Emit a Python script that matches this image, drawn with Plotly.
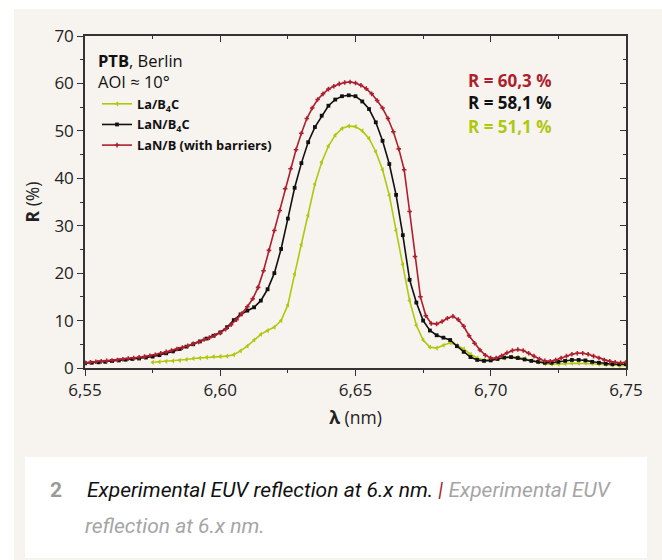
import numpy as np
import plotly.graph_objects as go

# ---- measured reflectance curves, R (%) vs wavelength (nm) ----
lan_b_wl = np.round(np.arange(6.550, 6.7501, 0.002), 4)
lan_b_R = [
    1.1, 1.2, 1.3, 1.4, 1.5, 1.6, 1.7, 1.85, 2.0, 2.1,
    2.25, 2.4, 2.6, 2.8, 3.1, 3.4, 3.7, 4.0, 4.3, 4.7,
    5.1, 5.5, 6.0, 6.4, 6.9, 7.4, 8.2, 9.1, 10.2, 11.5,
    12.9, 14.6, 17.0, 20.5, 24.8, 29.0, 33.2, 37.8, 42.0, 46.0,
    49.5, 52.6, 54.8, 56.6, 57.8, 58.8, 59.4, 59.9, 60.2, 60.3,
    60.1, 59.6, 58.9, 57.8, 56.4, 54.8, 52.6, 49.8, 46.2, 41.8,
    33.0, 23.5, 15.0, 11.0, 9.4, 9.3, 9.8, 10.5, 10.9, 10.2,
    8.8, 6.8, 5.2, 3.8, 2.7, 2.1, 2.1, 2.6, 3.2, 3.7,
    3.9, 3.7, 3.1, 2.5, 1.9, 1.5, 1.4, 1.7, 2.1, 2.5,
    2.9, 3.1, 3.1, 2.9, 2.5, 2.1, 1.7, 1.4, 1.2, 1.1,
    1.2,
]

lan_b4c_wl = np.round(np.arange(6.550, 6.7501, 0.0025), 4)
lan_b4c_R = [
    1.0, 1.1, 1.2, 1.3, 1.45, 1.6, 1.75, 1.9, 2.0, 2.2,
    2.4, 2.7, 3.1, 3.5, 4.0, 4.5, 5.0, 5.6, 6.2, 6.8,
    7.5, 8.6, 10.1, 11.3, 12.1, 12.8, 14.2, 16.6, 20.0, 25.1,
    31.5, 38.0, 43.2, 47.6, 50.8, 53.2, 55.3, 56.6, 57.3, 57.5,
    57.3, 56.2, 54.6, 51.8, 47.9, 43.0, 36.5, 28.0, 18.6, 13.8,
    10.0, 7.9, 6.9, 6.4, 5.9, 4.6, 3.4, 2.3, 1.7, 1.5,
    1.6, 1.9, 2.2, 2.3, 2.1, 1.8, 1.5, 1.3, 1.1, 1.1,
    1.3, 1.5, 1.7, 1.7, 1.6, 1.3, 1.1, 0.9, 0.8, 0.8,
    0.8,
]

la_b4c_wl = np.round(np.arange(6.575, 6.7501, 0.0025), 4)
la_b4c_R = [
    1.2, 1.3, 1.4, 1.5, 1.6, 1.8, 2.0, 2.1, 2.25, 2.4,
    2.45, 2.5, 2.8, 3.6, 4.6, 5.9, 7.1, 7.9, 8.6, 10.0,
    13.3, 19.8, 26.0, 32.2, 38.8, 43.4, 46.8, 49.1, 50.5, 51.0,
    50.9, 50.0, 48.4, 45.6, 41.8, 36.4, 29.0, 21.8, 14.2, 9.0,
    5.9, 4.4, 4.2, 4.8, 5.3, 4.8, 4.0, 2.9, 2.1, 1.7,
    1.7, 1.9, 2.1, 2.3, 2.3, 2.0, 1.6, 1.2, 0.9, 0.8,
    0.8, 0.9, 1.0, 1.0, 1.0, 0.9, 0.8, 0.7, 0.6, 0.5,
    0.5,
]

series_names = ["<b>La/B<sub>4</sub>C</b>", "<b>LaN/B<sub>4</sub>C</b>", "<b>LaN/B (with barriers)</b>"]
peak_labels = ["R = 60,3 %", "R = 58,1 %", "R = 51,1 %"]
x_ticks = [6.55, 6.60, 6.65, 6.70, 6.75]
y_ticks = [0, 10, 20, 30, 40, 50, 60, 70]

RED = "#ad1f2d"
GREEN = "#afc80e"
BLACK = "#111111"
BEIGE = "#f7f3ef"
AXIS = "#333333"
FONT = "Open Sans, Noto Sans, sans-serif"

fig = go.Figure()

fig.add_trace(go.Scatter(
    x=la_b4c_wl, y=la_b4c_R, name=series_names[0], legendgroup="a",
    mode="lines+markers", line=dict(color=GREEN, width=1.6),
    marker=dict(symbol="triangle-left", size=4.5, color=GREEN),
))
fig.add_trace(go.Scatter(
    x=lan_b4c_wl, y=lan_b4c_R, name=series_names[1], legendgroup="b",
    mode="lines+markers", line=dict(color=BLACK, width=1.6),
    marker=dict(symbol="square", size=3.8, color=BLACK),
))
fig.add_trace(go.Scatter(
    x=lan_b_wl, y=lan_b_R, name=series_names[2], legendgroup="c",
    mode="lines+markers", line=dict(color=RED, width=1.6),
    marker=dict(symbol="cross", size=3.8, color=RED),
))
# carrier trace for the mirrored top/right frame axes
fig.add_trace(go.Scatter(
    x=lan_b_wl, y=lan_b_R, xaxis="x2", yaxis="y2", mode="lines",
    line=dict(width=0), opacity=0, showlegend=False, hoverinfo="skip",
))

W, H = 662, 560
L, R, T, B = 85, 36, 36, 192
pw, ph = W - L - R, H - T - B


def px(x):
    return (x - L) / pw


def py(y):
    return (H - B - y) / ph


# page background panels
fig.add_shape(type="rect", xref="paper", yref="paper", layer="below",
              x0=px(14), x1=px(W + 5), y0=py(9), y1=py(H + 5),
              fillcolor=BEIGE, line=dict(width=0))
fig.add_shape(type="rect", xref="paper", yref="paper", layer="below",
              x0=px(25), x1=px(647), y0=py(457), y1=py(558),
              fillcolor="white", line=dict(width=0))

axis_common = dict(showgrid=False, zeroline=False, showline=True,
                   linecolor=AXIS, linewidth=1.5, tickcolor=AXIS, tickwidth=1.2)

fig.update_layout(
    width=W, height=H,
    margin=dict(l=L, r=R, t=T, b=B),
    paper_bgcolor="white",
    plot_bgcolor="rgba(0,0,0,0)",
    separators=", ",
    font=dict(family=FONT, color="#222222"),
    xaxis=dict(
        range=[6.55, 6.75], tickvals=x_ticks, tickformat=".2f",
        ticks="outside", ticklen=6,
        minor=dict(dtick=0.025, ticks="outside", ticklen=3.5, tickcolor=AXIS),
        tickfont=dict(size=17, color="#222222"),
        title=dict(text="<b>λ</b> (nm)", font=dict(size=17.5, color="#222222"), standoff=12),
        **axis_common,
    ),
    yaxis=dict(
        range=[0, 70], tickvals=y_ticks,
        ticks="outside", ticklen=6,
        minor=dict(dtick=5, ticks="outside", ticklen=3.5, tickcolor=AXIS),
        tickfont=dict(size=17, color="#222222"),
        title=dict(text="<b>R</b> (%)", font=dict(size=17.5, color="#222222"), standoff=10),
        **axis_common,
    ),
    xaxis2=dict(
        range=[6.55, 6.75], overlaying="x", side="top", anchor="y2",
        tickvals=x_ticks, showticklabels=False, ticks="inside", ticklen=6,
        minor=dict(dtick=0.025, ticks="inside", ticklen=3.5, tickcolor=AXIS),
        **axis_common,
    ),
    yaxis2=dict(
        range=[0, 70], overlaying="y", side="right", anchor="x2",
        tickvals=y_ticks, showticklabels=False, ticks="inside", ticklen=6,
        minor=dict(dtick=5, ticks="inside", ticklen=3.5, tickcolor=AXIS),
        **axis_common,
    ),
    legend=dict(
        x=px(97), y=py(89), xanchor="left", yanchor="top",
        bgcolor="rgba(0,0,0,0)", borderwidth=0,
        font=dict(size=12.8, color="#111111", family=FONT),
        traceorder="grouped", tracegroupgap=1, itemwidth=30,
    ),
    showlegend=True,
)

# header text in the upper-left corner
fig.add_annotation(xref="paper", yref="paper", x=px(96), y=py(60),
                   xanchor="left", yanchor="middle", showarrow=False,
                   text="<b>PTB</b>, Berlin", font=dict(size=16.5, color="#111111"))
fig.add_annotation(xref="paper", yref="paper", x=px(96), y=py(81),
                   xanchor="left", yanchor="middle", showarrow=False,
                   text="AOI ≈ 10°", font=dict(size=16.5, color="#111111"))

# peak reflectance labels
for lbl, col, yy in zip(peak_labels, [RED, BLACK, GREEN], [80, 103, 126]):
    fig.add_annotation(xref="paper", yref="paper", x=px(466), y=py(yy),
                       xanchor="left", yanchor="middle", showarrow=False,
                       text=f"<b>{lbl}</b>", font=dict(size=17, color=col))

# figure caption
CAP = "Roboto, Noto Sans, sans-serif"
fig.add_annotation(xref="paper", yref="paper", x=px(48), y=py(490),
                   xanchor="left", yanchor="middle", showarrow=False,
                   text="<b>2</b>", font=dict(size=21, color="#9a9a9a", family=CAP))
fig.add_annotation(xref="paper", yref="paper", x=px(85), y=py(490),
                   xanchor="left", yanchor="middle", showarrow=False,
                   text=("<i><span style='color:#111111'>Experimental EUV reflection at 6.x nm.</span> "
                         f"<span style='color:{RED}'>|</span> "
                         "<span style='color:#a5a5a5'>Experimental EUV</span></i>"),
                   font=dict(size=21, family=CAP))
fig.add_annotation(xref="paper", yref="paper", x=px(83), y=py(526),
                   xanchor="left", yanchor="middle", showarrow=False,
                   text="<i>reflection at 6.x nm.</i>",
                   font=dict(size=21, color="#a5a5a5", family=CAP))

fig.write_html("out.html")
